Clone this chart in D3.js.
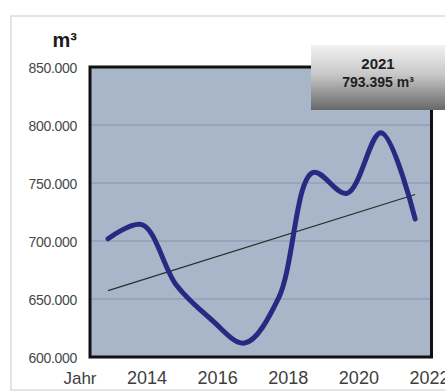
<!DOCTYPE html>
<html>
<head>
<meta charset="utf-8">
<script src="https://cdn.jsdelivr.net/npm/d3@7"></script>
<style>
  html, body { margin: 0; padding: 0; background: #ffffff; }
  svg { display: block; font-family: Arial, "Liberation Sans", sans-serif; }
</style>
</head>
<body>
<svg id="chart" width="445" height="392"></svg>
<script>
// Annual volume in cubic metres
const years = [2013, 2014, 2015, 2016, 2017, 2018, 2019, 2020, 2021, 2022];
const volumes = [702000, 714000, 662000, 633000, 612000, 651000, 759000, 741000, 793395, 719000];
const yTicks = [600000, 650000, 700000, 750000, 800000, 850000];
const xTickYears = [2014, 2016, 2018, 2020, 2022];
const highlightYear = 2021;

const de = d3.formatLocale({ decimal: ",", thousands: ".", grouping: [3], currency: ["", " €"] });
const fmt = de.format(",d");

const svg = d3.select("#chart");
const plot = { left: 90, right: 431.5, top: 67, bottom: 357 };

// outer panel frame
svg.append("rect")
  .attr("x", 11).attr("y", 16).attr("width", 450).attr("height", 374)
  .attr("fill", "#ffffff").attr("stroke", "#dcdcdc").attr("stroke-width", 1.5);

const x = d3.scaleLinear().domain([2012.47, 2022.48]).range([plot.left, plot.right]);
const xTick = d3.scaleLinear().domain([2012.4, 2022]).range([plot.left, 429]);
const y = d3.scaleLinear().domain([600000, 850000]).range([plot.bottom, plot.top]);

// plot background
svg.append("rect")
  .attr("x", plot.left).attr("y", plot.top)
  .attr("width", plot.right - plot.left).attr("height", plot.bottom - plot.top)
  .attr("fill", "#a9b5c8");

// horizontal gridlines
svg.append("g").selectAll("line")
  .data(yTicks.slice(1, -1))
  .join("line")
  .attr("x1", plot.left).attr("x2", plot.right)
  .attr("y1", d => y(d)).attr("y2", d => y(d))
  .attr("stroke", "#939fb4").attr("stroke-width", 1.5);

// y axis labels
const yAxis = d3.axisLeft(y).tickValues(yTicks).tickFormat(fmt).tickSize(0).tickPadding(0);
const gy = svg.append("g").attr("transform", `translate(77,0)`).call(yAxis);
gy.select(".domain").remove();
gy.selectAll("text")
  .attr("font-size", 14).attr("fill", "#474747")
  .attr("font-family", "Arial, 'Liberation Sans', sans-serif")
  .attr("letter-spacing", "-0.3")
  .attr("dy", "0.36em");

// unit label
svg.append("text")
  .attr("x", 77).attr("y", 47).attr("text-anchor", "end")
  .attr("font-size", 20).attr("font-weight", "bold").attr("fill", "#1a1a1a")
  .text("m³");

// x axis labels
const xAxis = d3.axisBottom(xTick).tickValues(xTickYears).tickFormat(d3.format("d")).tickSize(0).tickPadding(0);
const gx = svg.append("g").attr("transform", `translate(0,384)`).call(xAxis);
gx.select(".domain").remove();
gx.selectAll("text").attr("dy", 0).attr("font-size", 18).attr("fill", "#3e3e3e");

svg.append("text")
  .attr("x", 80).attr("y", 384).attr("text-anchor", "middle")
  .attr("font-size", 17).attr("fill", "#3e3e3e")
  .text("Jahr");

// trend line (least squares)
const n = years.length;
const mx = d3.mean(years), my = d3.mean(volumes);
const slope = d3.sum(years, (yr, i) => (yr - mx) * (volumes[i] - my)) / d3.sum(years, yr => (yr - mx) ** 2);
const icpt = my - slope * mx;
const trend = [years[0], years[n - 1]].map(yr => [yr, icpt + slope * yr]);
svg.append("path")
  .datum(trend)
  .attr("d", d3.line().x(d => x(d[0])).y(d => y(d[1])))
  .attr("fill", "none").attr("stroke", "#2b2b2b").attr("stroke-width", 1.2);

// volume curve
const pts = years.map((yr, i) => [yr, volumes[i]]);
svg.append("path")
  .datum(pts)
  .attr("d", d3.line().x(d => x(d[0])).y(d => y(d[1])).curve(d3.curveCatmullRom.alpha(0.5)))
  .attr("fill", "none").attr("stroke", "#282a82").attr("stroke-width", 5)
  .attr("stroke-linecap", "round").attr("stroke-linejoin", "round");

// plot frame
svg.append("rect")
  .attr("x", plot.left).attr("y", plot.top)
  .attr("width", plot.right - plot.left).attr("height", plot.bottom - plot.top)
  .attr("fill", "none").attr("stroke", "#111111").attr("stroke-width", 3);

// highlight box
const defs = svg.append("defs");
const grad = defs.append("linearGradient").attr("id", "boxGrad")
  .attr("x1", 0).attr("y1", 0).attr("x2", 0).attr("y2", 1);
grad.append("stop").attr("offset", "0%").attr("stop-color", "#f2f2f2");
grad.append("stop").attr("offset", "45%").attr("stop-color", "#c8c8c8");
grad.append("stop").attr("offset", "100%").attr("stop-color", "#686868");

const hi = volumes[years.indexOf(highlightYear)];
svg.append("rect")
  .attr("x", 311).attr("y", 45).attr("width", 134).attr("height", 65)
  .attr("fill", "url(#boxGrad)");
svg.append("text")
  .attr("x", 378).attr("y", 69).attr("text-anchor", "middle")
  .attr("font-size", 15).attr("font-weight", "bold").attr("fill", "#1e1e1e")
  .text(highlightYear);
svg.append("text")
  .attr("x", 378).attr("y", 87).attr("text-anchor", "middle")
  .attr("font-size", 14).attr("font-weight", "bold").attr("fill", "#1e1e1e")
  .text(fmt(hi) + " m³");
</script>
</body>
</html>
